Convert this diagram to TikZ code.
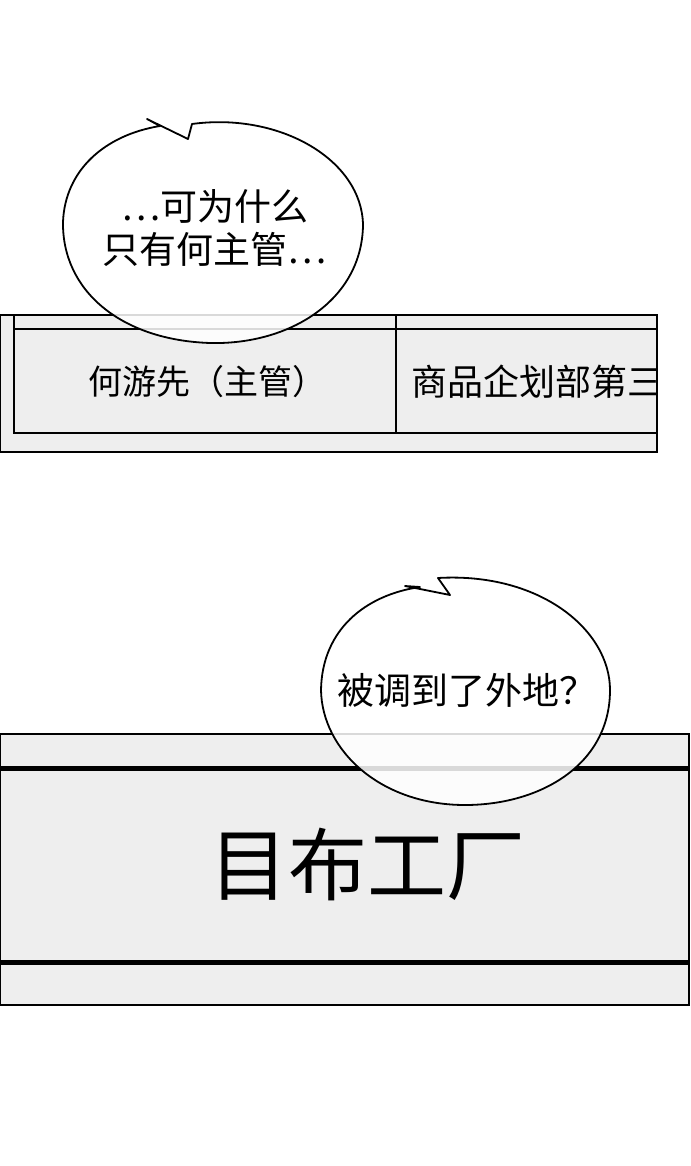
\documentclass[tikz,border=0pt]{standalone}
\usepackage{fontspec}
\newfontfamily\cjk{Noto Sans CJK SC}
\definecolor{panelgray}{HTML}{EEEEEE}
\tikzset{
  panel/.style={draw=black, fill=panelgray, line width=1.5pt},
  bubble/.style={draw=black, fill=white, fill opacity=0.85, line width=1.8pt, line join=round},
  talk/.style={font=\cjk\fontsize{34}{40}\selectfont, align=center},
  speech/.style={font=\cjk\fontsize{37}{43}\selectfont, align=center},
}
\begin{document}
\begin{tikzpicture}[x=1pt, y=-1pt]
    \useasboundingbox (0,0) rectangle (690,1166);
    % upper panel
    \draw[panel] (0,315) rectangle (657,452);
    \draw[line width=2.5pt] (14,315) -- (14,433) -- (657,433);
    \draw[line width=2.5pt] (14,329) -- (657,329);
    \draw[line width=2.5pt] (396,315) -- (396,433);
    \node[talk] (name) at (207,382) {何游先（主管）};
    \begin{scope}
        \clip (397,330) rectangle (656,432);
        \node[talk, anchor=west, font=\cjk\fontsize{36}{40}\selectfont] (dept) at (408,382) {商品企划部第三};
    \end{scope}
    % lower panel
    \draw[panel] (0,734) rectangle (689,1005);
    \draw[line width=5pt] (0,768) -- (689,768);
    \draw[line width=5pt] (0,962) -- (689,962);
    \node[font=\cjk\fontsize{79}{84}\selectfont] (factory) at (367,864) {目布工厂};
    % bubbles
    \draw[bubble] (147,119) -- (188,139) -- (192,124)
        .. controls (280,112) and (362,160) .. (363,225)
        .. controls (362,300) and (290,345) .. (210,343)
        .. controls (120,340) and (62,290) .. (63,222)
        .. controls (65,170) and (105,135) .. (160,126) -- cycle;
    \node[speech] (q1) at (215,228) {…可为什么\\只有何主管…};
    \draw[bubble] (405,586) -- (450,595) -- (438,578)
        .. controls (540,572) and (610,630) .. (610,690)
        .. controls (610,765) and (540,805) .. (465,805)
        .. controls (380,805) and (322,750) .. (321,690)
        .. controls (322,630) and (365,595) .. (420,587) -- cycle;
    \node[speech] (q2) at (467,690) {被调到了外地？};
\end{tikzpicture}
\end{document}
